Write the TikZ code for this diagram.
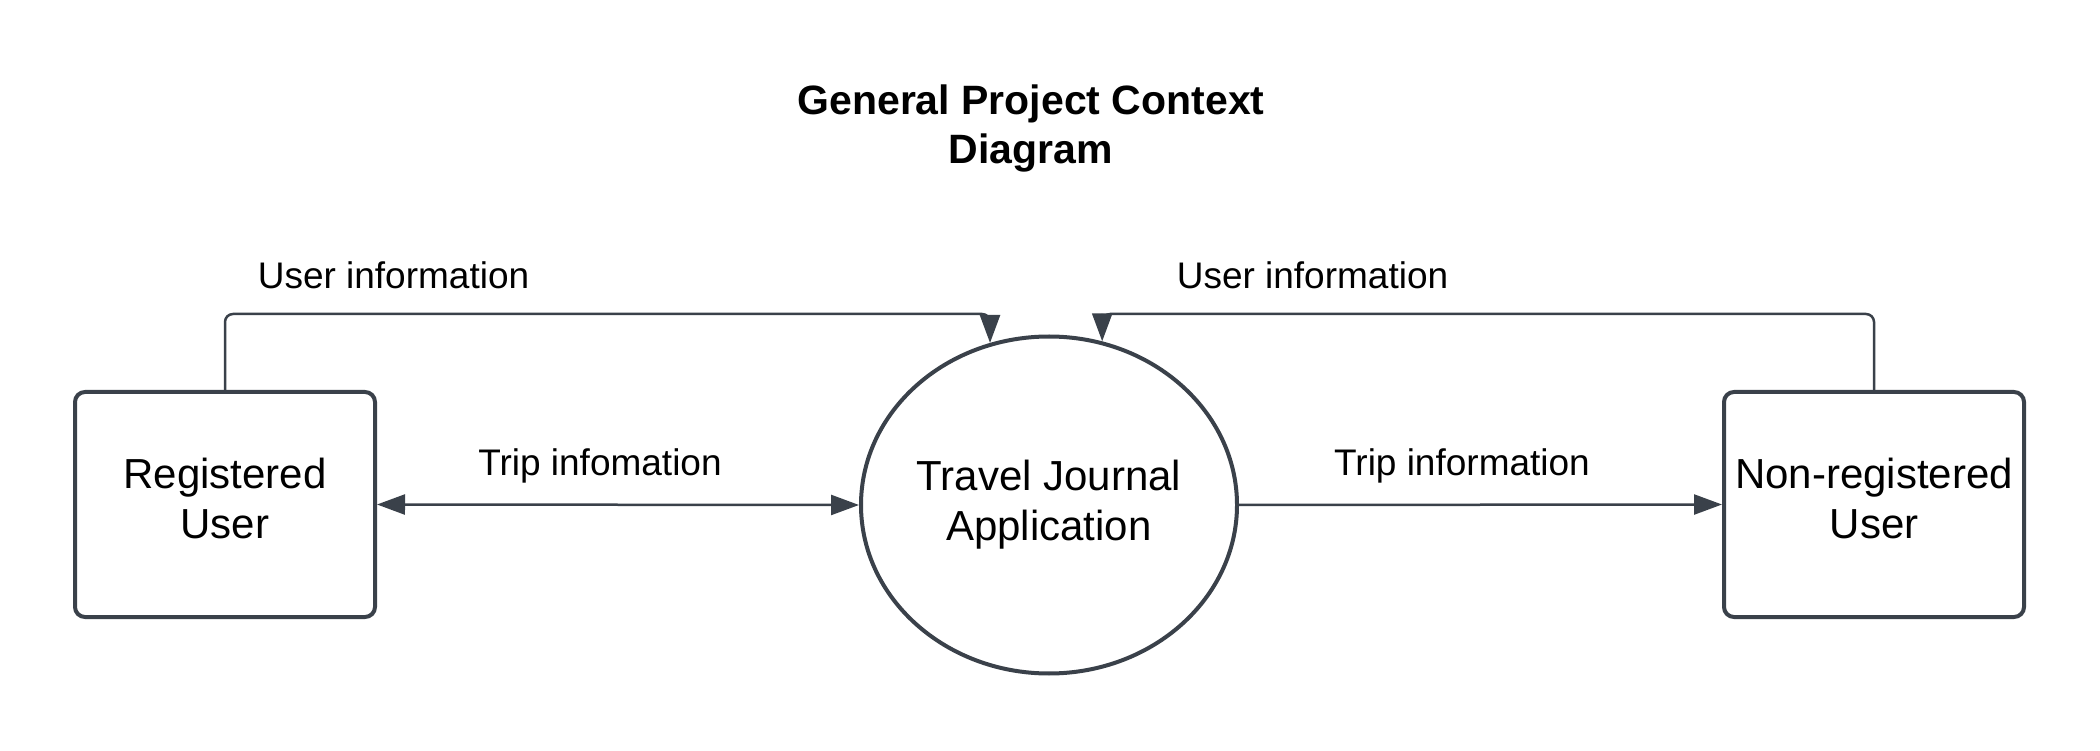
\documentclass[tikz,border=0pt]{standalone}
\usepackage{fontspec}
\setmainfont{Liberation Sans}
\usetikzlibrary{shapes.geometric,arrows.meta}
\definecolor{ink}{HTML}{3A414A}
\begin{document}
\begin{tikzpicture}[x=1pt,y=1pt,
  entity/.style={draw=ink,line width=4pt,rounded corners=10pt,minimum width=300pt,minimum height=225pt,inner sep=0pt,align=center,text depth=12pt,font=\fontsize{42}{50}\selectfont},
  proc/.style={draw=ink,line width=4pt,ellipse,minimum width=376pt,minimum height=337pt,inner sep=0pt,align=center,font=\fontsize{42}{50}\selectfont},
  flow/.style={draw=ink,line width=2.5pt,-{Triangle[length=28pt,width=20pt]}},
  lbl/.style={font=\fontsize{37}{44}\selectfont,inner sep=0pt}]
\useasboundingbox (0,0) rectangle (2100,750);
\node[align=center,font=\bfseries\fontsize{41}{49}\selectfont] (title) at (1031,621.5) {General Project Context\\Diagram};
\node[entity] (lb) at (225,245.5) {Registered\\User};
\node[proc] (app) at (1049,245) {Travel Journal\\Application};
\node[entity] (rb) at (1874,245.5) {Non-registered\\User};
\draw[flow,{Triangle[length=28pt,width=20pt]}-{Triangle[length=28pt,width=20pt]}] (lb.east) -- (app.west);
\draw[flow] (app.east) -- (rb.west);
\draw[flow,rounded corners=8pt] (lb.north) -- ++(0,76) -| (app.110);
\draw[flow,rounded corners=8pt] (rb.north) -- ++(0,76) -| (app.72);
\node[lbl] (l1) at (393.5,475) {User information};
\node[lbl] (l2) at (1312.5,475) {User information};
\node[lbl] (l3) at (600,284) {Trip infomation};
\node[lbl] (l4) at (1462,284) {Trip information};
\end{tikzpicture}
\end{document}
